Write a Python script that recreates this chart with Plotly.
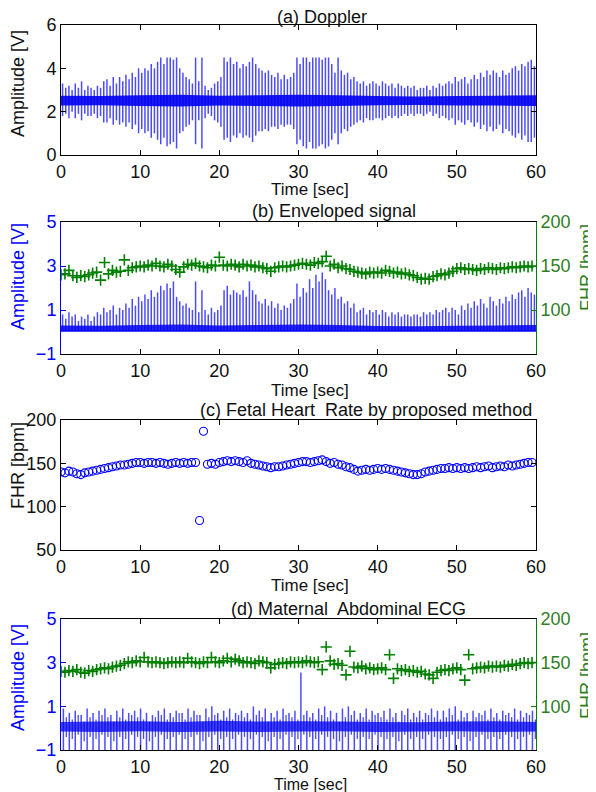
import plotly.graph_objects as go

# ---------------- data ----------------
BEAT_DT = 0.4          # s between Doppler / envelope beats
FHR_DT = 0.5           # s between FHR estimates
MAT_DT = 0.75          # s between maternal ECG beats

time_ticks = [0, 10, 20, 30, 40, 50, 60]

# (a) Doppler: per-beat maximum / minimum of the signal [V]
doppler_hi = [
    3.3, 3.1, 3.2, 3.0, 3.3, 3.1, 3.4, 3.0, 3.2, 3.1,
    3.0, 3.2, 3.1, 3.4, 3.5, 3.2, 3.6, 3.3, 3.6, 3.4,
    3.7, 3.5, 3.8, 3.6, 4.0, 3.8, 4.0, 3.9, 4.2, 4.0,
    4.3, 4.5, 4.2, 4.5, 4.5, 4.4, 4.5, 4.0, 3.8, 3.6,
    3.5, 3.3, 4.5, 3.4, 4.5, 3.2, 3.0, 3.1, 3.3, 3.4,
    3.6, 4.5, 4.3, 4.5, 4.2, 4.3, 4.0, 4.2, 4.1, 4.3,
    4.5, 4.2, 4.0, 3.9, 3.8, 3.9, 3.7, 3.6, 3.8, 3.5,
    3.7, 3.5, 3.6, 3.8, 4.5, 4.2, 4.5, 4.5, 4.3, 4.5,
    4.5, 4.5, 4.4, 4.5, 4.5, 4.2, 3.8, 4.5, 3.9, 3.7,
    3.8, 3.5, 3.6, 3.4, 3.3, 3.4, 3.2, 3.3, 3.4, 3.3,
    3.2, 3.4, 3.3, 3.2, 3.3, 3.1, 3.3, 3.2, 3.1, 3.2,
    3.1, 3.2, 3.0, 3.1, 3.1, 3.2, 3.0, 3.2, 3.1, 3.3,
    3.2, 3.3, 3.4, 3.3, 3.6, 3.4, 3.5, 3.6, 3.3, 3.5,
    3.7, 3.5, 3.8, 3.6, 3.9, 3.7, 3.9, 3.8, 3.6, 3.9,
    3.7, 3.8, 4.0, 4.1, 3.9, 4.2, 4.1, 4.3, 4.4, 4.1,
]
doppler_lo = [
    1.8, 1.9, 1.7, 2.0, 1.7, 1.9, 1.6, 1.9, 1.8, 1.8,
    1.9, 1.7, 1.8, 1.5, 1.5, 1.7, 1.4, 1.6, 1.4, 1.5,
    1.3, 1.5, 1.2, 1.4, 1.0, 1.2, 1.0, 1.1, 0.8, 1.0,
    0.7, 0.5, 0.8, 0.4, 0.5, 0.6, 0.3, 1.0, 1.1, 1.3,
    1.4, 1.6, 0.5, 1.6, 0.3, 1.7, 1.9, 1.8, 1.6, 1.5,
    1.3, 0.7, 0.8, 0.6, 0.9, 0.8, 1.0, 0.8, 0.9, 0.8,
    0.6, 0.9, 1.1, 1.1, 1.2, 1.1, 1.3, 1.3, 1.2, 1.4,
    1.3, 1.4, 1.4, 1.2, 0.5, 0.7, 0.4, 0.3, 0.6, 0.3,
    0.3, 0.4, 0.5, 0.3, 0.4, 0.7, 1.0, 0.5, 1.0, 1.2,
    1.1, 1.3, 1.4, 1.5, 1.6, 1.5, 1.7, 1.6, 1.6, 1.7,
    1.7, 1.6, 1.7, 1.8, 1.7, 1.8, 1.7, 1.8, 1.9, 1.8,
    1.9, 1.8, 1.9, 1.9, 1.8, 1.9, 2.0, 1.8, 1.9, 1.7,
    1.8, 1.7, 1.6, 1.7, 1.4, 1.6, 1.5, 1.4, 1.6, 1.5,
    1.3, 1.5, 1.2, 1.4, 1.1, 1.3, 1.1, 1.2, 1.4, 1.0,
    1.2, 1.1, 0.9, 0.8, 1.0, 0.7, 0.9, 0.6, 0.6, 0.8,
]
core_t = [0, 5, 10, 15, 20, 25, 30, 35, 40, 45, 50, 55, 60]
doppler_core_hi = [2.74, 2.72, 2.76, 2.78, 2.74, 2.76, 2.78, 2.76, 2.72, 2.70, 2.72, 2.74, 2.76]
doppler_core_lo = [2.28, 2.30, 2.26, 2.24, 2.28, 2.26, 2.24, 2.26, 2.30, 2.31, 2.29, 2.28, 2.26]

# (b) Enveloped signal: per-beat envelope peak [V]
env_hi = [
    0.8, 0.6, 0.9, 0.7, 0.8, 0.5, 0.7, 0.6, 0.8, 0.5,
    0.7, 0.9, 0.8, 1.1, 0.9, 1.0, 1.2, 0.8, 1.1, 1.0,
    1.3, 1.1, 1.5, 1.2, 1.6, 1.4, 1.7, 1.5, 1.9, 1.6,
    1.8, 2.1, 1.9, 2.2, 2.0, 2.3, 1.6, 1.4, 1.2, 1.3,
    1.1, 1.0, 2.3, 0.9, 1.9, 1.0, 0.8, 1.1, 0.9, 1.0,
    1.2, 1.9, 2.1, 1.7, 1.9, 1.8, 1.7, 1.9, 1.6, 2.3,
    1.9, 1.7, 1.4, 1.3, 1.5, 1.2, 1.4, 1.1, 1.3, 1.0,
    1.2, 1.1, 1.3, 1.5, 2.2, 1.6, 2.0, 1.8, 2.4, 2.0,
    2.6, 2.3, 2.7, 2.4, 1.9, 1.7, 2.0, 1.5, 1.6, 1.3,
    1.4, 1.1, 1.3, 0.9, 1.0, 1.1, 0.8, 1.0, 0.9, 1.0,
    0.8, 1.0, 0.9, 0.7, 0.9, 0.8, 0.9, 0.7, 0.8, 0.8,
    0.7, 0.8, 0.8, 0.7, 0.9, 0.8, 0.9, 0.8, 1.0, 0.9,
    1.0, 1.1, 0.9, 1.1, 1.0, 0.8, 1.2, 1.0, 1.3, 1.1,
    1.4, 1.2, 1.5, 1.3, 1.1, 1.6, 1.4, 1.2, 1.5, 1.3,
    1.6, 1.4, 1.7, 1.5, 1.8, 1.9, 1.6, 2.0, 1.8, 1.7,
]
env_base = 0.05
env_core_hi = [0.30, 0.28, 0.32, 0.34, 0.30, 0.32, 0.34, 0.32, 0.27, 0.26, 0.28, 0.30, 0.32]
env_core_lo = [0.02, 0.02, 0.02, 0.02, 0.02, 0.02, 0.02, 0.02, 0.02, 0.02, 0.02, 0.02, 0.02]

# FHR from the Doppler envelope (green +) [bpm]
fhr_doppler = [
    140, 141, 145, 139, 137, 139, 138, 140, 142, 143,
    134, 154, 141, 145, 143, 144, 157, 145, 148, 149,
    150, 149, 151, 150, 153, 150, 149, 152, 150, 146,
    143, 149, 152, 151, 153, 150, 149, 148, 151, 150,
    160, 151, 150, 152, 151, 149, 152, 150, 151, 149,
    150, 148, 147, 144, 148, 149, 150, 149, 150, 151,
    152, 153, 152, 151, 154, 153, 155, 161, 150, 152,
    148, 150, 147, 146, 144, 143, 142, 141, 143, 142,
    143, 142, 145, 144, 142, 143, 141, 142, 140, 139,
    137, 135, 136, 135, 138, 139, 141, 140, 142, 144,
    147, 148, 146, 147, 146, 145, 147, 146, 148, 147,
    146, 148, 147, 148, 149, 148, 149, 150, 149, 150,
]

# (c) FHR by proposed method [bpm]
fhr_proposed = [
    140, 139, 141, 140, 138, 137, 139, 140, 141, 142,
    143, 144, 145, 146, 147, 148, 148, 149, 150, 151,
    151, 150, 151, 151, 150, 151, 150, 149, 150, 151,
    150, 151, 150, 151, 151, 84, 187, 149, 150, 149,
    151, 152, 153, 152, 153, 152, 151, 153, 150, 149,
    148, 147, 146, 145, 146, 146, 147, 148, 149, 150,
    151, 152, 152, 151, 152, 153, 154, 152, 150, 151,
    149, 148, 146, 145, 143, 141, 142, 143, 142, 143,
    144, 143, 144, 143, 142, 141, 140, 139, 138, 137,
    137, 138, 140, 141, 142, 143, 144, 144, 145, 144,
    145, 144, 145, 144, 145, 146, 145, 146, 147, 145,
    146, 147, 146, 148, 147, 148, 149, 150, 151, 151,
]

# (d) Maternal abdominal ECG [V]
maternal_hi = [
    0.9, 0.7, 0.8, 0.6, 0.9, 0.7, 0.8, 0.9, 0.6, 0.8,
    0.9, 0.7, 0.8, 0.9, 0.7, 0.6, 0.8, 0.9, 0.7, 0.8,
    0.7, 0.9, 0.8, 0.6, 0.9, 1.0, 0.7, 0.8, 0.9, 0.7,
    0.8, 0.7, 1.0, 0.8, 0.9, 0.7, 0.8, 0.9, 0.7, 0.8,
    2.55, 0.8, 0.7, 0.9, 1.0, 0.8, 0.7, 0.9, 1.0, 0.8,
    0.7, 0.9, 0.8, 0.7, 0.8, 0.9, 0.7, 0.8, 0.9, 0.7,
    0.8, 0.7, 0.9, 0.8, 0.8, 0.9, 1.0, 0.8, 0.7, 0.8,
    0.7, 0.8, 0.9, 0.7, 0.8, 0.7, 0.9, 0.8, 0.7, 0.8,
]
maternal_trough = -1.2
minor_hi = [
    0.5, 0.4, 0.6, 0.3, 0.5, 0.4, 0.6, 0.5, 0.3, 0.5,
    0.4, 0.6, 0.5, 0.4, 0.3, 0.5, 0.6, 0.4, 0.5, 0.7,
    0.4, 0.5, 0.6, 0.3, 0.5, 0.6, 0.4, 0.5, 0.4, 0.6,
    0.5, 0.4, 0.6, 0.5, 0.3, 0.5, 0.4, 0.6, 0.5, 0.4,
    0.6, 0.5, 0.4, 0.6, 0.5, 0.4, 0.3, 0.5, 0.6, 0.4,
    0.5, 0.4, 0.6, 0.5, 0.4, 0.5, 0.3, 0.6, 0.4, 0.5,
    0.4, 0.6, 0.5, 0.4, 0.5, 0.6, 0.4, 0.5, 0.3, 0.5,
    0.6, 0.4, 0.5, 0.4, 0.6, 0.5, 0.4, 0.5, 0.6, 0.4,
]
minor_lo = [
    -0.4, -0.5, -0.3, -0.6, -0.4, -0.5, -0.3, -0.4, -0.6, -0.4,
    -0.5, -0.3, -0.4, -0.5, -0.6, -0.4, -0.3, -0.5, -0.4, -0.3,
    -0.5, -0.4, -0.3, -0.6, -0.4, -0.3, -0.5, -0.4, -0.5, -0.3,
    -0.4, -0.5, -0.3, -0.4, -0.6, -0.4, -0.5, -0.3, -0.4, -0.5,
    -0.3, -0.4, -0.5, -0.3, -0.4, -0.5, -0.6, -0.4, -0.3, -0.5,
    -0.4, -0.5, -0.3, -0.4, -0.5, -0.4, -0.6, -0.3, -0.5, -0.4,
    -0.5, -0.3, -0.4, -0.5, -0.4, -0.3, -0.5, -0.4, -0.6, -0.4,
    -0.3, -0.5, -0.4, -0.5, -0.3, -0.4, -0.5, -0.4, -0.3, -0.5,
]
ecg_core_hi = [0.28, 0.30, 0.32, 0.28, 0.34, 0.30, 0.32, 0.30, 0.28, 0.27, 0.30, 0.32, 0.28]
ecg_core_lo = [-0.15, -0.18, -0.14, -0.17, -0.15, -0.18, -0.15, -0.14, -0.17, -0.15, -0.14, -0.17, -0.15]

# FHR from abdominal ECG (green +) [bpm]
fhr_ecg = [
    140, 139, 141, 140, 142, 139, 138, 141, 140, 142,
    143, 144, 143, 145, 146, 147, 149, 151, 150, 152,
    151, 156, 151, 150, 151, 150, 149, 150, 151, 150,
    151, 150, 155, 151, 150, 149, 151, 150, 156, 151,
    150, 152, 155, 151, 154, 152, 150, 151, 150, 149,
    152, 151, 150, 144, 148, 149, 150, 149, 151, 150,
    151, 150, 152, 151, 150, 151, 142, 168, 152, 148,
    149, 147, 136, 163, 145, 144, 146, 143, 144, 142,
    143, 144, 142, 159, 132, 143, 141, 142, 140, 141,
    139, 140, 137, 136, 132, 139, 141, 142, 141, 143,
    144, 142, 130, 159, 143, 144, 145, 144, 146, 145,
    146, 145, 147, 146, 148, 147, 149, 150, 149, 150,
]

titles = ["(a) Doppler", "(b) Enveloped signal",
          "(c) Fetal Heart  Rate by proposed method", "(d) Maternal  Abdominal ECG"]

# ---------------- helpers ----------------
PAGE_OFF = 8                      # default body margin of the html page
W, H = 596 - PAGE_OFF, 792 - PAGE_OFF
FONT = "Liberation Sans, Arial, sans-serif"
FS = 18
BLUE = "#0000ff"
GREEN = "#008000"
GREEN_TXT = "#2f7f1f"
SPIKE = "rgba(0,0,255,0.7)"
TXT = "#111111"


def px(x):
    return (x - PAGE_OFF) / W


def py(y):
    return 1 - (y - PAGE_OFF) / H


def segs(ts, lo, hi):
    xs, ys = [], []
    for t, a, b in zip(ts, lo, hi):
        xs += [t, t, None]
        ys += [a, b, None]
    return xs, ys


def band(ts, lo, hi):
    return list(ts) + list(ts)[::-1], list(hi) + list(lo)[::-1]


beat_t = [0.2 + BEAT_DT * i for i in range(len(doppler_hi))]
fhr_t = [FHR_DT * i for i in range(len(fhr_doppler))]
mat_t = [0.3 + MAT_DT * i for i in range(len(maternal_hi))]
minor_t = [0.3 + MAT_DT / 2 + MAT_DT * i for i in range(len(minor_hi))]

fig = go.Figure()

# (a)
sx, sy = segs(beat_t, doppler_lo, doppler_hi)
fig.add_trace(go.Scatter(x=sx, y=sy, mode="lines", line=dict(color=SPIKE, width=1.5),
                         xaxis="x", yaxis="y"))
bx, by = band(core_t, doppler_core_lo, doppler_core_hi)
fig.add_trace(go.Scatter(x=bx, y=by, fill="toself", fillcolor="rgba(0,0,240,0.9)", mode="none",
                         xaxis="x", yaxis="y", hoverinfo="skip"))

# (b)
sx, sy = segs(beat_t, [env_base] * len(env_hi), env_hi)
fig.add_trace(go.Scatter(x=sx, y=sy, mode="lines", line=dict(color=SPIKE, width=1.5),
                         xaxis="x2", yaxis="y2"))
bx, by = band(core_t, env_core_lo, env_core_hi)
fig.add_trace(go.Scatter(x=bx, y=by, fill="toself", fillcolor="rgba(0,0,240,0.85)", mode="none",
                         xaxis="x2", yaxis="y2", hoverinfo="skip"))
fig.add_trace(go.Scatter(x=[0, 60], y=[env_base, env_base], mode="lines",
                         line=dict(color=BLUE, width=1.2), xaxis="x2", yaxis="y2"))
fig.add_trace(go.Scatter(x=fhr_t, y=fhr_doppler, mode="markers",
                         marker=dict(symbol="cross-thin", size=8, line=dict(color=GREEN, width=1.6)),
                         xaxis="x2", yaxis="y3"))

# (c)
fig.add_trace(go.Scatter(x=fhr_t, y=fhr_proposed, mode="markers",
                         marker=dict(symbol="circle-open", size=8, color=BLUE,
                                     line=dict(color=BLUE, width=1.1)),
                         xaxis="x3", yaxis="y4"))

# (d)
sx, sy = segs(minor_t, minor_lo, minor_hi)
fig.add_trace(go.Scatter(x=sx, y=sy, mode="lines", line=dict(color=SPIKE, width=1.3),
                         xaxis="x4", yaxis="y5"))
sx, sy = segs(mat_t, [maternal_trough] * len(maternal_hi), maternal_hi)
fig.add_trace(go.Scatter(x=sx, y=sy, mode="lines", line=dict(color=SPIKE, width=1.5),
                         xaxis="x4", yaxis="y5"))
bx, by = band(core_t, ecg_core_lo, ecg_core_hi)
fig.add_trace(go.Scatter(x=bx, y=by, fill="toself", fillcolor="rgba(0,0,240,0.75)", mode="none",
                         xaxis="x4", yaxis="y5", hoverinfo="skip"))
fig.add_trace(go.Scatter(x=fhr_t, y=fhr_ecg, mode="markers",
                         marker=dict(symbol="cross-thin", size=8, line=dict(color=GREEN, width=1.6)),
                         xaxis="x4", yaxis="y6"))

# ---------------- layout ----------------
XL, XR = px(61), px(536)


def ydom(top, bottom):
    return [py(bottom), py(top)]


def xax(anchor):
    return dict(domain=[XL, XR], anchor=anchor, range=[0, 60], tickvals=time_ticks,
                ticks="inside", ticklen=5, tickcolor="black", showline=True, linecolor="black",
                linewidth=1, mirror="ticks", showgrid=False, zeroline=False, automargin=False,
                tickfont=dict(family=FONT, size=FS, color=TXT))


def yax(anchor, dom, rng, tv, color="black", mirror="ticks", side="left", overlay=None,
        labcolor=None):
    d = dict(anchor=anchor, range=rng, tickvals=tv, ticks="inside", ticklen=5,
             tickcolor=color, showline=True, linecolor=color, linewidth=1, mirror=mirror,
             showgrid=False, zeroline=False, side=side, automargin=False,
             tickfont=dict(family=FONT, size=FS, color=labcolor or (color if color != "black" else TXT)))
    if overlay:
        d["overlaying"] = overlay
    else:
        d["domain"] = dom
    return d


layout = dict(
    width=W, height=H, margin=dict(l=0, r=0, t=0, b=0, autoexpand=False),
    paper_bgcolor="white", plot_bgcolor="white", showlegend=False,
    font=dict(family=FONT, size=FS, color=TXT),
    xaxis=xax("y"), xaxis2=xax("y2"), xaxis3=xax("y4"), xaxis4=xax("y5"),
    yaxis=yax("x", ydom(25, 155), [0, 6], [0, 2, 4, 6]),
    yaxis2=yax("x2", ydom(222, 354), [-1, 5], [-1, 1, 3, 5], color=BLUE, mirror=False),
    yaxis3=yax("x2", None, [50, 200], [100, 150, 200], color=GREEN, mirror=False,
               side="right", overlay="y2", labcolor=GREEN_TXT),
    yaxis4=yax("x3", ydom(420, 550), [50, 200], [50, 100, 150, 200]),
    yaxis5=yax("x4", ydom(619, 750), [-1, 5], [-1, 1, 3, 5], color=BLUE, mirror=False),
    yaxis6=yax("x4", None, [50, 200], [100, 150, 200], color=GREEN, mirror=False,
               side="right", overlay="y5", labcolor=GREEN_TXT),
)
fig.update_layout(**layout)


def ann(text, xp, yp, color=TXT, angle=0, size=FS):
    fig.add_annotation(text=text, x=px(xp), y=py(yp), xref="paper", yref="paper",
                       showarrow=False, textangle=angle, xanchor="center", yanchor="middle",
                       font=dict(family=FONT, size=size, color=color))


# panel titles
ann(titles[0], 322, 17)
ann(titles[1], 334, 211)
ann(titles[2], 366, 410)
ann(titles[3], 348, 609)
# x titles
ann("Time [sec]", 310, 189, size=17)
ann("Time [sec]", 310, 390, size=17)
ann("Time [sec]", 310, 585, size=17)
ann("Time [sec]", 310, 784, size=16)
# y titles
ann("Amplitude [V]", 18, 84, angle=-90)
ann("Amplitude [V]", 18, 277, color=BLUE, angle=-90)
ann("FHR [bpm]", 18, 466, angle=-90)
ann("Amplitude [V]", 18, 678, color=BLUE, angle=-90)
ann("FHR [bpm]", 587, 268, color=GREEN_TXT, angle=-90)
ann("FHR [bpm]", 587, 676, color=GREEN_TXT, angle=-90)

fig.write_html("out.html")
